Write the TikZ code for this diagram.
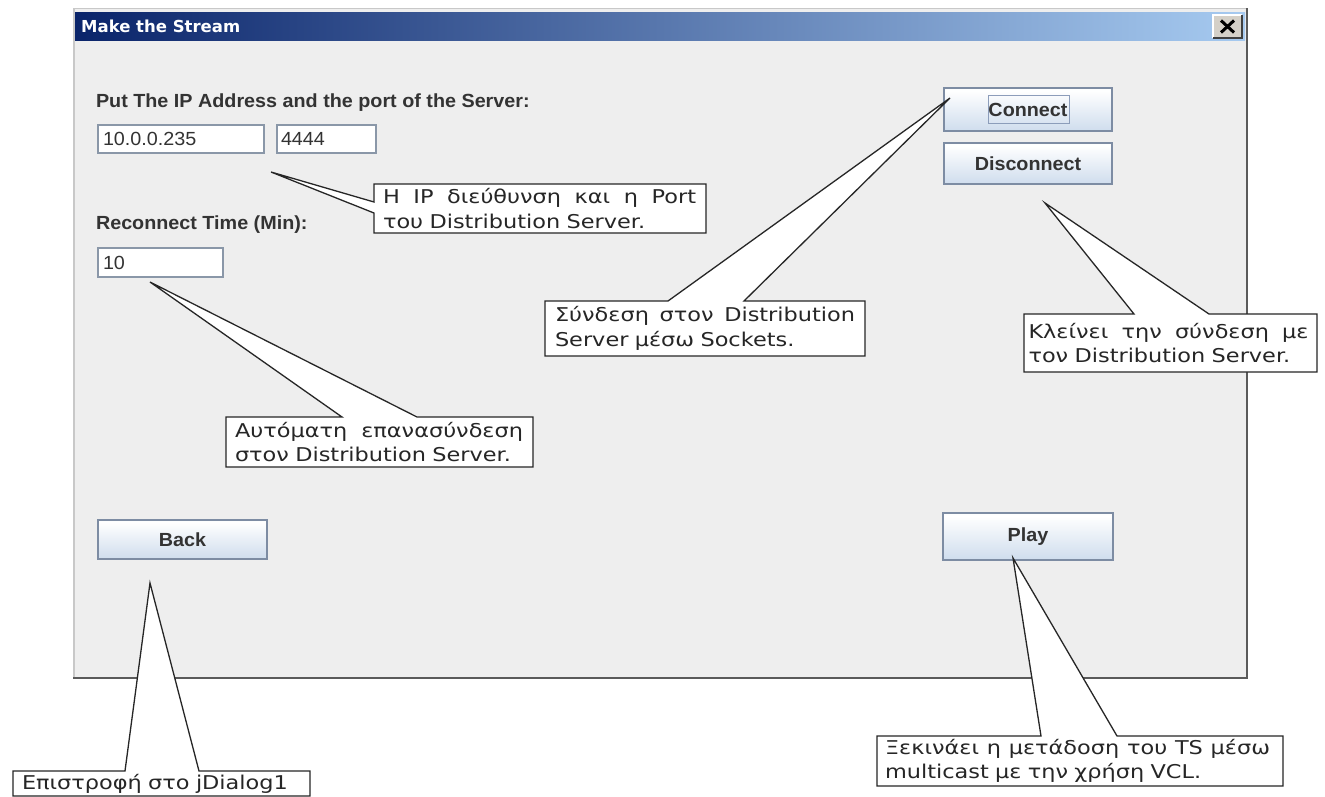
\documentclass[tikz,border=0pt]{standalone}
\usepackage{fontspec}
\setmainfont{DejaVu Sans}
\newfontfamily\notefont[FakeStretch=1.18]{DejaVu Sans}
\newfontfamily\guifont[FakeStretch=1.04]{Liberation Sans}
\newfontfamily\titlefont{DejaVu Sans}
\usetikzlibrary{calc}
\pgfdeclarelayer{callout}
\pgfdeclarelayer{callouttext}
\pgfsetlayers{main,callout,callouttext}

% a line whose word spaces are stretched to the given width
\newcommand\spreadline[2]{\makebox[#1][s]{\spaceskip=0pt\xspaceskip=0pt\relax #2}}

\definecolor{panel}{HTML}{EEEEEE}
\definecolor{titleL}{HTML}{0A246A}
\definecolor{titleR}{HTML}{A6CAF0}
\definecolor{guitext}{HTML}{333333}
\definecolor{btnTop}{HTML}{E4ECF6}
\definecolor{btnBot}{HTML}{B6CBE4}
\definecolor{btnEdge}{HTML}{7D8CA3}
\definecolor{fieldEdge}{HTML}{8A97A8}
\definecolor{framedark}{HTML}{5A5A5A}
\definecolor{framelight}{HTML}{C8C8C8}
\definecolor{closebg}{HTML}{D4D0C8}
\definecolor{focusline}{HTML}{8C9DBA}

% Metal/Ocean style button gradient (0bp = bottom)
\pgfdeclareverticalshading{oceanbtn}{100bp}{color(0bp)=(btnBot); color(40bp)=(btnBot!45!white); color(72bp)=(white); color(100bp)=(btnTop)}

\begin{document}
\begin{tikzpicture}[x=1pt,y=-1pt,
  guilabel/.style={anchor=base west, inner sep=0pt, outer sep=0pt,
    font=\guifont\bfseries\fontsize{19pt}{22pt}\selectfont, text=guitext},
  field/.style={draw=fieldEdge, fill=white, line width=1.2pt, anchor=north west,
    inner ysep=0pt, outer sep=0pt, align=left, text=guitext,
    font=\guifont\fontsize{19pt}{22pt}\selectfont},
  button/.style={draw=btnEdge, line width=1.2pt, shading=oceanbtn, anchor=north west,
    inner sep=0pt, outer sep=0pt, text=guitext,
    font=\guifont\bfseries\fontsize{19pt}{22pt}\selectfont},
  note/.style={anchor=north west, inner xsep=9pt, inner ysep=0pt, outer sep=0pt,
    align=left, text=black!85, font=\notefont\fontsize{19pt}{24.5pt}\selectfont},
  noteline/.style={draw=black!85, fill=white, line width=1.3pt, line join=miter},
]
\useasboundingbox (0,0) rectangle (1325,796);
\fill[white] (0,0) rectangle (1325,796);

% ---- dialog window ----
\fill[panel] (73,8) rectangle (1248,679);
\draw[framelight, line width=1.5pt] (74,678) -- (74,8.5) -- (1247,8.5);
\draw[framedark, line width=2.5pt] (73,678) -- (1247,678) -- (1247,8);
\shade[left color=titleL, right color=titleR] (75,12) rectangle (1245,40);
\node[anchor=base west, inner sep=0pt, text=white,
  font=\titlefont\bfseries\fontsize{16.5pt}{18pt}\selectfont] (title) at (81,32) {Make the Stream};

% close button
\node[fill=closebg, minimum width=29pt, minimum height=23pt, inner sep=0pt, outer sep=0pt,
  anchor=north west] (closebtn) at (1213,15) {};
\draw[white, line width=1.2pt] (closebtn.south west) -- (closebtn.north west) -- (closebtn.north east);
\draw[black!75, line width=1.5pt] (closebtn.south west) -- (closebtn.south east) -- (closebtn.north east);
\draw[black, line width=3pt] ($(closebtn.center)+(-6.5,-6)$) -- ($(closebtn.center)+(6.5,6)$);
\draw[black, line width=3pt] ($(closebtn.center)+(-6.5,6)$) -- ($(closebtn.center)+(6.5,-6)$);

% ---- labels and text fields ----
\node[guilabel] (lblserver) at (96,107) {Put The IP Address and the port of the Server:};
\node[field, minimum width=166pt, minimum height=28pt, inner xsep=5pt, text width=156pt] (ipfield) at (98,125) {10.0.0.235};
\node[field, minimum width=99pt, minimum height=28pt, inner xsep=4pt, text width=91pt] (portfield) at (277,125) {4444};
\node[guilabel] (lbltime) at (96,229) {Reconnect Time (Min):};
\node[field, minimum width=125pt, minimum height=29pt, inner xsep=5pt, text width=115pt] (timefield) at (98,248) {10};

% ---- buttons ----
\node[button, minimum width=168pt, minimum height=43pt] (connect) at (944,88) {Connect};
\draw[focusline, line width=0.8pt] (988,95) rectangle (1069,123);
\node[button, minimum width=168pt, minimum height=41pt] (disconnect) at (944,143) {Disconnect};
\node[button, minimum width=169pt, minimum height=39pt] (back) at (98,520) {Back};
\node[button, minimum width=170pt, minimum height=47pt] (play) at (943,513) {Play};

% ---- explanatory callouts ----
\begin{pgfonlayer}{callouttext}
\node[note, minimum width=332pt, minimum height=49pt, text width=314pt] (ipnote) at (374,184)
  {\spreadline{313pt}{Η IP διεύθυνση και η Port}\\του Distribution Server.};
\node[note, inner xsep=10pt, minimum width=320pt, minimum height=55pt, text width=300pt] (connnote) at (545,301)
  {\spreadline{300pt}{Σύνδεση στον Distribution}\\Server μέσω Sockets.};
\node[note, inner xsep=4.5pt, minimum width=293pt, minimum height=58pt, text width=284pt] (discnote) at (1024,314)
  {\spreadline{280pt}{Κλείνει την σύνδεση με}\\τον Distribution Server.};
\node[note, minimum width=307pt, minimum height=50pt, text width=289pt] (recnote) at (226,417)
  {\spreadline{288pt}{Αυτόματη επανασύνδεση}\\στον Distribution Server.};
\node[note, minimum width=297pt, minimum height=25pt, text width=279pt] (backnote) at (13,771)
  {Επιστροφή στο jDialog1};
\node[note, inner xsep=8pt, minimum width=406pt, minimum height=50pt, text width=390pt] (playnote) at (877,736)
  {\spreadline{385pt}{Ξεκινάει η μετάδοση του TS μέσω}\\multicast με την χρήση VCL.};
\end{pgfonlayer}

% pointer tips and the points where pointers meet their boxes
\coordinate (iptip) at (271,172);   \coordinate (ipb1) at (374,202);  \coordinate (ipb2) at (374,213);
\coordinate (conntip) at (950,98);  \coordinate (connb1) at (668,301); \coordinate (connb2) at (744,301);
\coordinate (disctip) at (1045,203);\coordinate (discb1) at (1134,314);\coordinate (discb2) at (1209,314);
\coordinate (rectip) at (150,282);  \coordinate (recb1) at (342,417);  \coordinate (recb2) at (417,417);
\coordinate (backtip) at (150,583); \coordinate (backb1) at (125,771); \coordinate (backb2) at (199,771);
\coordinate (playtip) at (1013,558);\coordinate (playb1) at (1041,736);\coordinate (playb2) at (1117,736);

\begin{pgfonlayer}{callout}
\draw[noteline] (ipnote.north west) -- (ipnote.north east) -- (ipnote.south east)
  -- (ipnote.south west) -- (ipb2) -- (iptip) -- (ipb1) -- cycle;
\draw[noteline] (connnote.north west) -- (connb1) -- (conntip) -- (connb2)
  -- (connnote.north east) -- (connnote.south east) -- (connnote.south west) -- cycle;
\draw[noteline] (discnote.north west) -- (discb1) -- (disctip) -- (discb2)
  -- (discnote.north east) -- (discnote.south east) -- (discnote.south west) -- cycle;
\draw[noteline] (recnote.north west) -- (recb1) -- (rectip) -- (recb2)
  -- (recnote.north east) -- (recnote.south east) -- (recnote.south west) -- cycle;
\draw[noteline] (backnote.north west) -- (backb1) -- (backtip) -- (backb2)
  -- (backnote.north east) -- (backnote.south east) -- (backnote.south west) -- cycle;
\draw[noteline] (playnote.north west) -- (playb1) -- (playtip) -- (playb2)
  -- (playnote.north east) -- (playnote.south east) -- (playnote.south west) -- cycle;
\end{pgfonlayer}
\end{tikzpicture}
\end{document}
